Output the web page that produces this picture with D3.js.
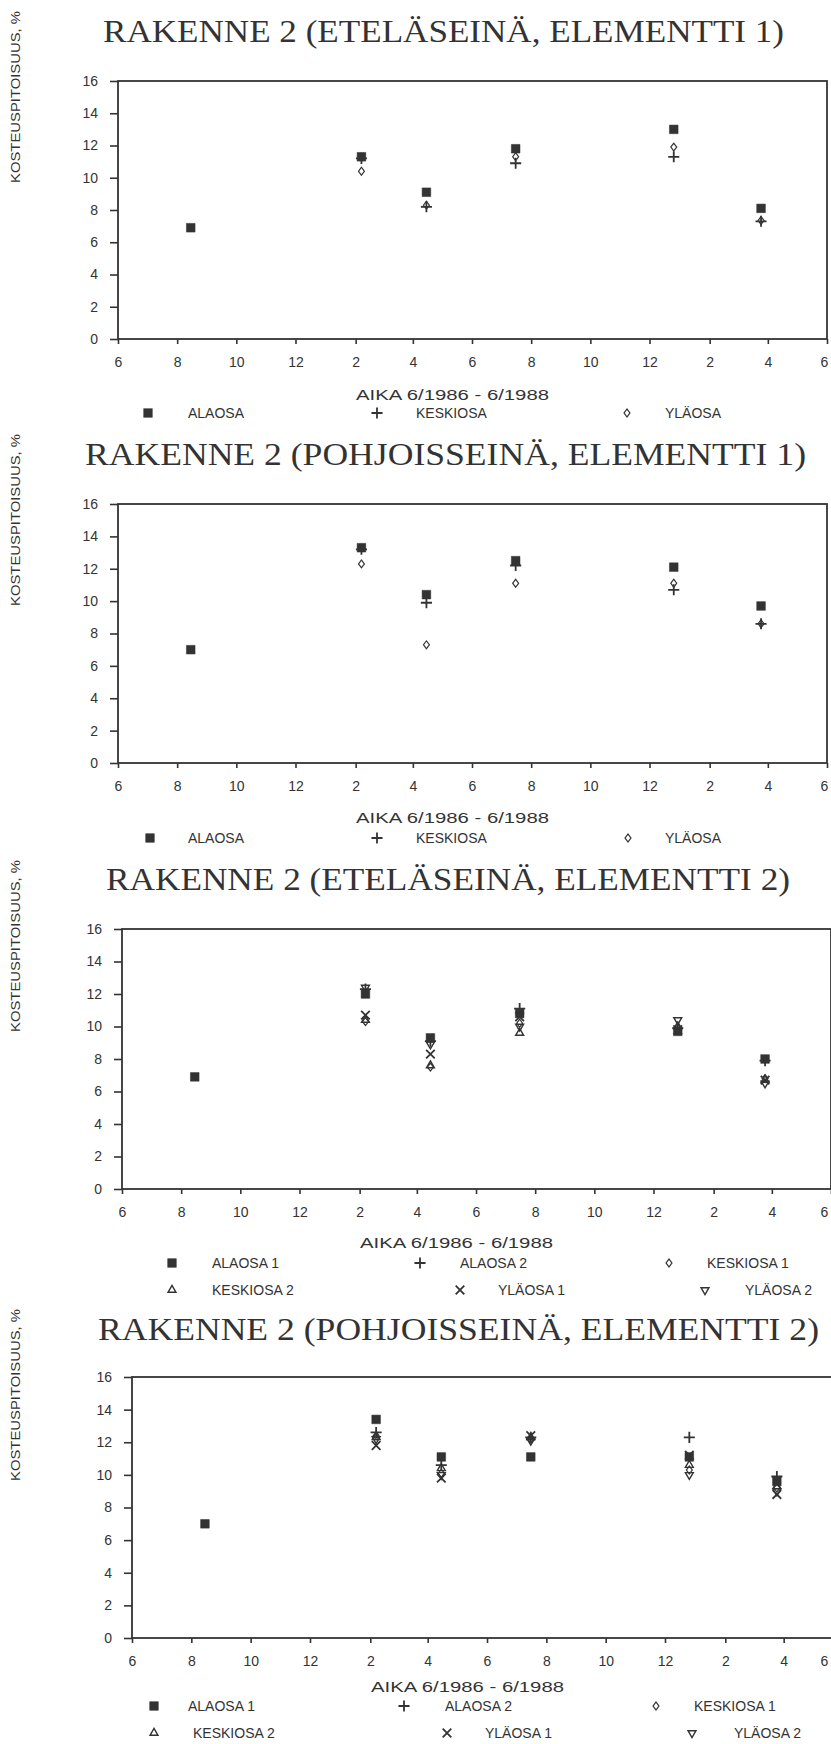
<!DOCTYPE html>
<html>
<head>
<meta charset="utf-8">
<script src="https://cdn.jsdelivr.net/npm/d3@7"></script>
<style>
  body { margin: 0; background: #fff; }
  svg { display: block; }
  .title { font-family: "Liberation Serif", "DejaVu Serif", serif; fill: #333; }
  .sans { font-family: "Liberation Sans", Arial, sans-serif; fill: #333; }
</style>
</head>
<body>
<svg width="831" height="1744"></svg>
<script>
//	measurement dates (same for every wall)
var dates = ["1986-08-15", "1987-02-07", "1987-04-15", "1987-07-16", "1987-12-26", "1988-03-25"];
var yTicks = [0, 2, 4, 6, 8, 10, 12, 14, 16];

//	panel titles
var titles = [
	"RAKENNE 2 (ETELÄSEINÄ, ELEMENTTI 1)",
	"RAKENNE 2 (POHJOISSEINÄ, ELEMENTTI 1)",
	"RAKENNE 2 (ETELÄSEINÄ, ELEMENTTI 2)",
	"RAKENNE 2 (POHJOISSEINÄ, ELEMENTTI 2)"
];
var yTitle = "KOSTEUSPITOISUUS, %";
var xTitle = "AIKA 6/1986 - 6/1988";

//	series names
var names3 = ["ALAOSA", "KESKIOSA", "YLÄOSA"];
var names6 = ["ALAOSA 1", "ALAOSA 2", "KESKIOSA 1", "KESKIOSA 2", "YLÄOSA 1", "YLÄOSA 2"];

//	panel 1 : eteläseinä, elementti 1
var p1Alaosa   = [6.9, 11.3, 9.1, 11.8, 13.0, 8.1];
var p1Keskiosa = [null, 11.2, 8.2, 10.9, 11.3, 7.3];
var p1Ylaosa   = [null, 10.4, 8.3, 11.3, 11.9, 7.35];

//	panel 2 : pohjoisseinä, elementti 1
var p2Alaosa   = [7.0, 13.3, 10.4, 12.5, 12.1, 9.7];
var p2Keskiosa = [null, 13.2, 9.9, 12.2, 10.7, 8.6];
var p2Ylaosa   = [null, 12.3, 7.3, 11.1, 11.1, 8.6];

//	panel 3 : eteläseinä, elementti 2
var p3Alaosa1   = [6.9, 12.0, 9.3, 10.8, 9.7, 8.0];
var p3Alaosa2   = [null, 12.3, 9.1, 11.1, 9.9, 7.9];
var p3Keskiosa1 = [null, 10.3, 7.5, 10.2, 9.9, 6.8];
var p3Keskiosa2 = [null, 10.4, 7.6, 9.6, 10.0, 6.7];
var p3Ylaosa1   = [null, 10.7, 8.3, 10.6, 9.8, 6.7];
var p3Ylaosa2   = [null, 12.4, 8.9, 10.0, 10.4, 6.5];

//	panel 4 : pohjoisseinä, elementti 2
var p4Alaosa1   = [7.0, 13.4, 11.1, 11.1, 11.1, 9.6];
var p4Alaosa2   = [null, 12.6, 10.6, 12.3, 12.3, 9.9];
var p4Keskiosa1 = [null, 12.4, 10.1, 12.2, 10.3, 9.2];
var p4Keskiosa2 = [null, 12.3, 10.4, 12.3, 10.6, 9.3];
var p4Ylaosa1   = [null, 11.8, 9.8, 12.4, 11.2, 8.8];
var p4Ylaosa2   = [null, 12.2, 10.0, 12.1, 10.0, 9.0];

var ink = "#333";
var parseDate = d3.timeParse("%Y-%m-%d");
var start = new Date(1986, 5, 1), end = new Date(1988, 5, 1);
var monthTicks = d3.timeMonth.range(start, new Date(1988, 5, 2), 2);

//	marker shapes: square, plus, diamond, triangle, x, triangle down
var markers = {
	square:  { type: d3.symbolSquare, size: 75, fill: true },
	plus:    { type: d3.symbolPlus, size: 42, fill: false, sw: 1.8 },
	diamond: { type: d3.symbolDiamond2, size: 40, fill: false, sx: 0.75 },
	tri:     { type: d3.symbolTriangle2, size: 45, fill: false },
	cross:   { type: d3.symbolTimes, size: 50, fill: false, sw: 1.8 },
	triDown: { type: d3.symbolTriangle2, size: 45, fill: false, rot: 180 }
};

//	layout of each panel (pixel geometry of the scan)
var layout = [
	{ x0: 118, x1: 827, yTop: 81, yBot: 339, titleX: 103, titleW: 681, titleY: 42, ylY: 97,
	  xtY: 400, legend: [[148, 188, 413], [377, 416, 413], [627, 665, 413]] },
	{ x0: 118, x1: 827, yTop: 504, yBot: 763, titleX: 85, titleW: 721, titleY: 465, ylY: 520,
	  xtY: 823, legend: [[150, 188, 838], [377, 416, 838], [628, 665, 838]] },
	{ x0: 122, x1: 831, yTop: 929, yBot: 1189, titleX: 106, titleW: 684, titleY: 890, ylY: 946,
	  xtY: 1248, legend: [[172, 212, 1263], [420, 460, 1263], [669, 707, 1263], [172, 212, 1290], [460, 498, 1290], [705, 745, 1290]] },
	{ x0: 132, x1: 843, yTop: 1377, yBot: 1638, titleX: 98, titleW: 721, titleY: 1340, ylY: 1395,
	  xtY: 1692, legend: [[154, 188, 1706], [404, 445, 1706], [656, 694, 1706], [154, 193, 1733], [447, 485, 1733], [692, 734, 1733]] }
];

var panels = [
	{ series: [p1Keskiosa, p1Ylaosa, p1Alaosa], names: [names3[1], names3[2], names3[0]], marks: ["plus", "diamond", "square"], legendOrder: [2, 0, 1] },
	{ series: [p2Keskiosa, p2Ylaosa, p2Alaosa], names: [names3[1], names3[2], names3[0]], marks: ["plus", "diamond", "square"], legendOrder: [2, 0, 1] },
	{ series: [p3Alaosa2, p3Keskiosa1, p3Keskiosa2, p3Ylaosa1, p3Ylaosa2, p3Alaosa1], names: [names6[1], names6[2], names6[3], names6[4], names6[5], names6[0]],
	  marks: ["plus", "diamond", "tri", "cross", "triDown", "square"], legendOrder: [5, 0, 1, 2, 3, 4] },
	{ series: [p4Alaosa2, p4Keskiosa1, p4Keskiosa2, p4Ylaosa1, p4Ylaosa2, p4Alaosa1], names: [names6[1], names6[2], names6[3], names6[4], names6[5], names6[0]],
	  marks: ["plus", "diamond", "tri", "cross", "triDown", "square"], legendOrder: [5, 0, 1, 2, 3, 4] }
];

var svg = d3.select("svg");

function drawMarker(sel, key) {
	var m = markers[key];
	var tr = "";
	if (m.rot) tr += " rotate(" + m.rot + ")";
	if (m.sx) tr += " scale(" + m.sx + ",1)";
	sel.append("path")
		.attr("d", d3.symbol().type(m.type).size(m.size)())
		.attr("transform", tr)
		.attr("fill", m.fill ? ink : "none")
		.attr("stroke", ink)
		.attr("stroke-width", m.fill ? 0.5 : (m.sw || 1.4));
}

panels.forEach(function(p, i) {
	var L = layout[i];
	var g = svg.append("g");
	var x = d3.scaleTime().domain([start, end]).range([L.x0, L.x1]);
	var y = d3.scaleLinear().domain([0, 16]).range([L.yBot, L.yTop]);

	//	title
	g.append("text").attr("class", "title")
		.attr("x", L.titleX).attr("y", L.titleY)
		.attr("font-size", 32)
		.attr("textLength", L.titleW).attr("lengthAdjust", "spacingAndGlyphs")
		.text(titles[i]);

	//	y title
	g.append("text").attr("class", "sans")
		.attr("transform", "translate(20," + L.ylY + ") rotate(-90)")
		.attr("text-anchor", "middle")
		.attr("font-size", 12)
		.attr("textLength", 172).attr("lengthAdjust", "spacingAndGlyphs")
		.text(yTitle);

	//	axes
	var ay = g.append("g").attr("transform", "translate(" + L.x0 + ",0)")
		.call(d3.axisLeft(y).tickValues(yTicks).tickSize(8).tickPadding(12));
	var ax = g.append("g").attr("transform", "translate(0," + L.yBot + ")")
		.call(d3.axisBottom(x).tickValues(monthTicks).tickSize(5).tickPadding(13).tickFormat(d3.timeFormat("%-m")));
	[ay, ax].forEach(function(a) {
		a.select(".domain").remove();
		a.selectAll("line").attr("stroke", ink).attr("stroke-width", 1.6);
		a.selectAll("text").attr("class", "sans").attr("font-size", 14).attr("fill", i == 3 && a === ax ? "#999" : ink);
	});
	//	keep the last month label inside the page
	ax.selectAll(".tick text").attr("x", function(d) { return Math.min(0, 824 - x(d)); });

	//	frame
	g.append("rect")
		.attr("x", L.x0).attr("y", L.yTop)
		.attr("width", L.x1 - L.x0).attr("height", L.yBot - L.yTop)
		.attr("fill", "none").attr("stroke", ink).attr("stroke-width", 1.8);

	//	x title
	g.append("text").attr("class", "sans")
		.attr("x", (L.x0 + L.x1) / 2 - 20).attr("y", L.xtY)
		.attr("text-anchor", "middle").attr("font-size", 14)
		.attr("textLength", 193).attr("lengthAdjust", "spacingAndGlyphs")
		.attr("fill", i == 3 ? "#999" : ink)
		.text(xTitle);

	//	points
	p.series.forEach(function(s, k) {
		var pts = g.append("g").selectAll("g")
			.data(s.map(function(v, j) { return { date: parseDate(dates[j]), v: v }; })
				.filter(function(d) { return d.v != null; }))
			.join("g")
			.attr("transform", function(d) { return "translate(" + x(d.date) + "," + y(d.v) + ")"; });
		drawMarker(pts, p.marks[k]);
	});

	//	legend
	p.legendOrder.forEach(function(k, n) {
		var pos = L.legend[n];
		var lg = g.append("g").attr("transform", "translate(" + pos[0] + "," + pos[2] + ")");
		drawMarker(lg, p.marks[k]);
		g.append("text").attr("class", "sans")
			.attr("x", pos[1]).attr("y", pos[2] + 5)
			.attr("font-size", 14)
			.text(p.names[k]);
	});
});
</script>
</body>
</html>
